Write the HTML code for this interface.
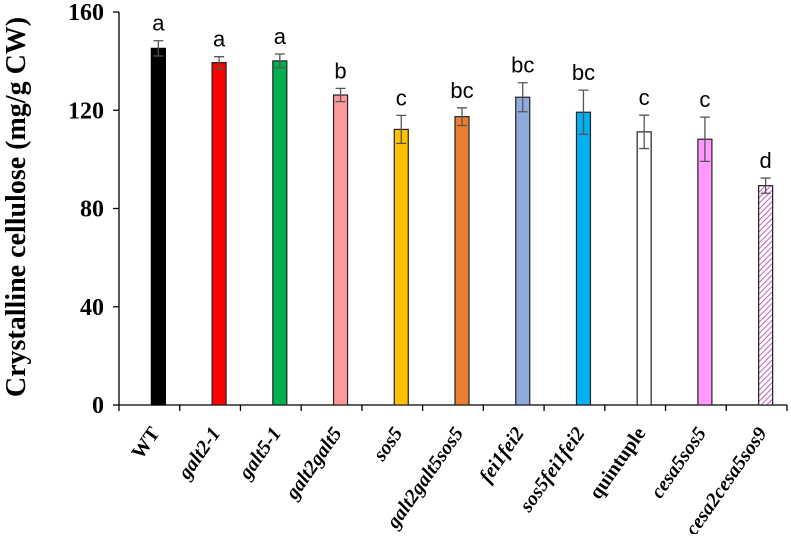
<!DOCTYPE html>
<html><head><meta charset="utf-8"><style>
html,body{margin:0;padding:0;background:#fff}
svg text{font-family:"Liberation Serif",serif}
</style></head><body>
<svg id="chart" width="791" height="534" viewBox="0 0 791 534" xmlns="http://www.w3.org/2000/svg">
<defs>
<pattern id="hatch" patternUnits="userSpaceOnUse" width="4" height="4" patternTransform="rotate(45)">
<rect width="4" height="4" fill="#fff"/><line x1="0" y1="0" x2="0" y2="4" stroke="#c060c0" stroke-width="2"/>
</pattern>
</defs>
<text transform="translate(25,207) rotate(-90)" text-anchor="middle" font-size="28" font-weight="bold">Crystalline cellulose (mg/g CW)</text>
<g id="g"></g>
</svg>
<script>
const categories=["WT","galt2-1","galt5-1","galt2galt5","sos5","galt2galt5sos5","fei1fei2","sos5fei1fei2","quintuple","cesa5sos5","cesa2cesa5sos9"];
const values=[145.2,139.4,140.1,126.2,112.2,117.4,125.3,119.2,111.2,108.2,89.3];
const errors=[3.1,2.4,2.8,2.7,5.7,3.6,5.9,9,6.8,9,3.1];
const letters=["a","a","a","b","c","bc","bc","bc","c","c","d"];
const yTicks=[0,40,80,120,160];
const colors=["#000000","#ff0000","#00b050","#ff9999","#ffc000","#ed7d31","#8faadc","#00b0f0","#ffffff","#ff99ff","url(#hatch)"];
const italic=[false,true,true,true,true,true,true,true,false,true,true];
const NS="http://www.w3.org/2000/svg";
const g=document.getElementById('g');
const x0=119,x1=787,y0=405,yTop=12,yMax=160;
const step=(x1-x0)/categories.length;
const y=v=>y0-(v/yMax)*(y0-yTop);
const xc=i=>x0+step*(i+0.5)+9;
function mk(t,a){const e=document.createElementNS(NS,t);for(const k in a)e.setAttribute(k,a[k]);g.appendChild(e);return e;}
let e;
e=mk('line',{x1:x0,y1:yTop,x2:x0,y2:y0,stroke:'#000','stroke-width':1.3});


e=mk('line',{x1:x0,y1:y0,x2:x1,y2:y0,stroke:'#000','stroke-width':1.3});


yTicks.forEach(t=>{
 e=mk('line',{x1:x0-6,y1:y(t),x2:x0,y2:y(t),stroke:'#000','stroke-width':1.3});
 
 
 e=mk('text',{x:104,y:y(t)+8,'text-anchor':'end','font-size':24,'font-weight':'bold'});
 e.textContent=t;
 
 
});
for(let i=0;i<=categories.length;i++){
 e=mk('line',{x1:x0+step*i,y1:y0,x2:x0+step*i,y2:y0+6,stroke:'#000','stroke-width':1.3});
 
 
}
categories.forEach((c,i)=>{
 const cx=xc(i),w=14;
 e=mk('rect',{x:cx-w/2,y:y(values[i]),width:w,height:y0-y(values[i]),fill:colors[i],stroke:i==0?'#000':'#222','stroke-width':1.2});
 
 
 const yt=y(values[i]+errors[i]),yb=y(values[i]-errors[i]);
 e=mk('path',{d:`M${cx},${yt}V${yb}M${cx-5},${yt}H${cx+5}M${cx-5},${yb}H${cx+5}`,stroke:'#555','stroke-width':1.3,fill:'none'});
 
 
 e=mk('text',{x:cx,y:yt-10,'text-anchor':'middle','font-size':22,style:'font-family:"Liberation Sans",sans-serif'});
 e.textContent=letters[i];
 
 
 const lx=cx+2,ly=y0+28;
 e=mk('text',{x:lx,y:ly,'text-anchor':'end','font-size':20,'font-weight':'bold','font-style':italic[i]?'italic':'normal',transform:`rotate(-55 ${lx} ${ly})`});
 e.textContent=c;
 
 
});
</script>
</body></html>
